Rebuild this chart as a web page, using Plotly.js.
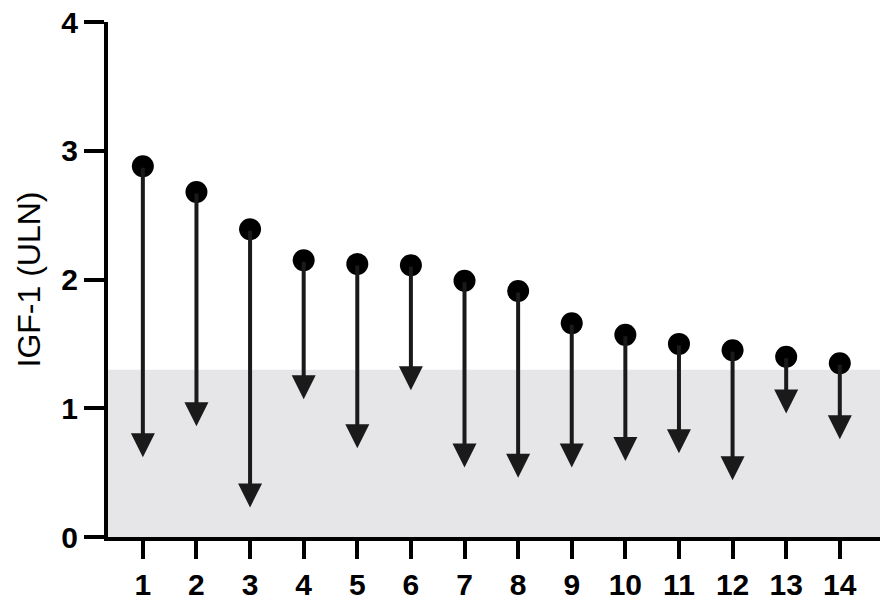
<!DOCTYPE html>
<html>
<head>
<meta charset="utf-8">
<script src="https://cdn.plot.ly/plotly-3.0.1.min.js"></script>
<style>
  html, body { margin: 0; padding: 0; background: #fff; }
  #chart { width: 886px; height: 606px; }
</style>
</head>
<body>
<div id="chart"></div>
<script>
// patients 1..14, IGF-1 before (dot) and after (arrow tip), in ULN
const patients = [1, 2, 3, 4, 5, 6, 7, 8, 9, 10, 11, 12, 13, 14];
const before = [2.88, 2.68, 2.39, 2.15, 2.12, 2.11, 1.99, 1.91, 1.66, 1.57, 1.50, 1.45, 1.40, 1.35];
const after = [0.62, 0.86, 0.23, 1.07, 0.69, 1.14, 0.54, 0.46, 0.54, 0.59, 0.65, 0.44, 0.96, 0.76];
const normalLimit = 1.3;
const yTicks = [0, 1, 2, 3, 4];

const ink = '#1a1a1a';

const dots = {
  x: patients,
  y: before,
  type: 'scatter',
  mode: 'markers',
  marker: { color: '#000', size: 22 },
  hoverinfo: 'skip',
  showlegend: false
};

// one arrow per patient, from the baseline dot down to the follow-up value
const arrows = patients.map((p, i) => ({
  x: p, y: after[i],
  ax: p, ay: before[i],
  xref: 'x', yref: 'y', axref: 'x', ayref: 'y',
  text: '',
  showarrow: true,
  arrowhead: 2,
  arrowsize: 1.2,
  arrowwidth: 4,
  arrowcolor: ink,
  standoff: 0,
  startstandoff: 0
}));

const layout = {
  width: 886,
  height: 606,
  margin: { l: 108, r: 6, t: 22, b: 69 },
  paper_bgcolor: '#fff',
  plot_bgcolor: '#fff',
  font: { family: 'Liberation Sans, Arial, sans-serif', color: '#000' },
  xaxis: {
    range: [0.35, 14.75],
    tickmode: 'array',
    tickvals: patients,
    ticktext: patients.map(String),
    ticks: 'outside',
    ticklen: 18,
    tickwidth: 4,
    tickcolor: '#000',
    tickfont: { size: 30, weight: 'bold' },
    showline: true,
    linewidth: 4,
    linecolor: '#000',
    showgrid: false,
    zeroline: false,
    fixedrange: true
  },
  yaxis: {
    range: [0, 4],
    tickmode: 'array',
    tickvals: yTicks,
    ticktext: yTicks.map(String),
    ticks: 'outside',
    ticklen: 20,
    tickwidth: 4,
    tickcolor: '#000',
    tickfont: { size: 30, weight: 'bold' },
    showline: true,
    linewidth: 4,
    linecolor: '#000',
    showgrid: false,
    zeroline: false,
    fixedrange: true,
    title: { text: 'IGF-1 (ULN)', font: { size: 32 }, standoff: 12 }
  },
  shapes: [{
    type: 'rect',
    xref: 'paper', yref: 'y',
    x0: 0, x1: 1, y0: 0, y1: normalLimit,
    fillcolor: '#e6e5e8',
    line: { width: 0 },
    layer: 'below'
  }],
  annotations: arrows
};

Plotly.newPlot('chart', [dots], layout, { displayModeBar: false, staticPlot: true });
</script>
</body>
</html>
